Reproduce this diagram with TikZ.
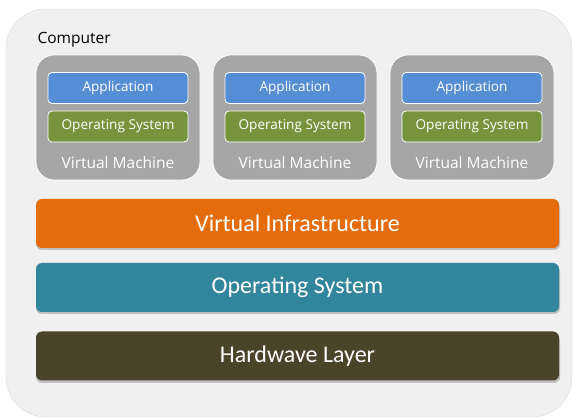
\documentclass[tikz,border=0pt]{standalone}
\usepackage{fontspec}
\setmainfont{Carlito}
\newfontfamily\uifont{Open Sans}
\definecolor{compbg}{HTML}{F0F0F0}
\definecolor{vmgray}{HTML}{A6A6A6}
\definecolor{appblue}{HTML}{558ED5}
\definecolor{osgreen}{HTML}{77933C}
\definecolor{infraorange}{HTML}{E46C0A}
\definecolor{osteal}{HTML}{31859C}
\definecolor{hwbrown}{HTML}{4A452A}
\begin{document}
\begin{tikzpicture}[x=1pt,y=-1pt,
    vmbox/.style={fill=vmgray, draw=white, line width=0.8pt, rounded corners=18pt,
                  minimum width=164pt, minimum height=125pt, inner sep=0pt},
    smallbox/.style={draw=white, line width=0.8pt, rounded corners=4pt, text=white,
                  minimum width=140pt, minimum height=31pt, inner sep=0pt,
                  font=\uifont\fontsize{13.6}{15}\selectfont},
    layerbar/.style={rounded corners=6pt, text=white, minimum width=523pt,
                  minimum height=49pt, inner sep=0pt,
                  font=\fontsize{24}{28}\selectfont},
    shade/.style={fill=black!25, rounded corners=6pt}]
\useasboundingbox (0,0) rectangle (573,419);
% the computer
\draw[fill=compbg, draw=black!15, rounded corners=40pt] (6,9) rectangle (572,417);
\node[anchor=base west, font=\uifont\fontsize{15.5}{17}\selectfont] (computer) at (34,44) {Computer};
% virtual machines
\foreach \i/\x in {1/118, 2/295, 3/472} {
    \node[vmbox] (vm\i) at (\x,117.5) {};
    \node[smallbox, fill=appblue] (app\i) at (\x,88) {Application};
    \node[smallbox, fill=osgreen] (guest\i) at (\x,126.5) {Operating System};
    \node[text=white, font=\uifont\fontsize{15.5}{17}\selectfont] (vmlabel\i) at (\x,163) {Virtual Machine};
}
% layers
\fill[shade] (36,202) rectangle (560,250);
\node[layerbar, fill=infraorange] (infra) at (297.5,223.5) {Virtual Infrastructure};
\fill[shade] (36,266) rectangle (560,314);
\node[layerbar, fill=osteal] (hostos) at (297.5,287.5) {Operating System};
\fill[shade] (36,335) rectangle (560,383);
\node[layerbar, fill=hwbrown] (hardware) at (297.5,356) {Hardwave Layer};
\end{tikzpicture}
\end{document}
